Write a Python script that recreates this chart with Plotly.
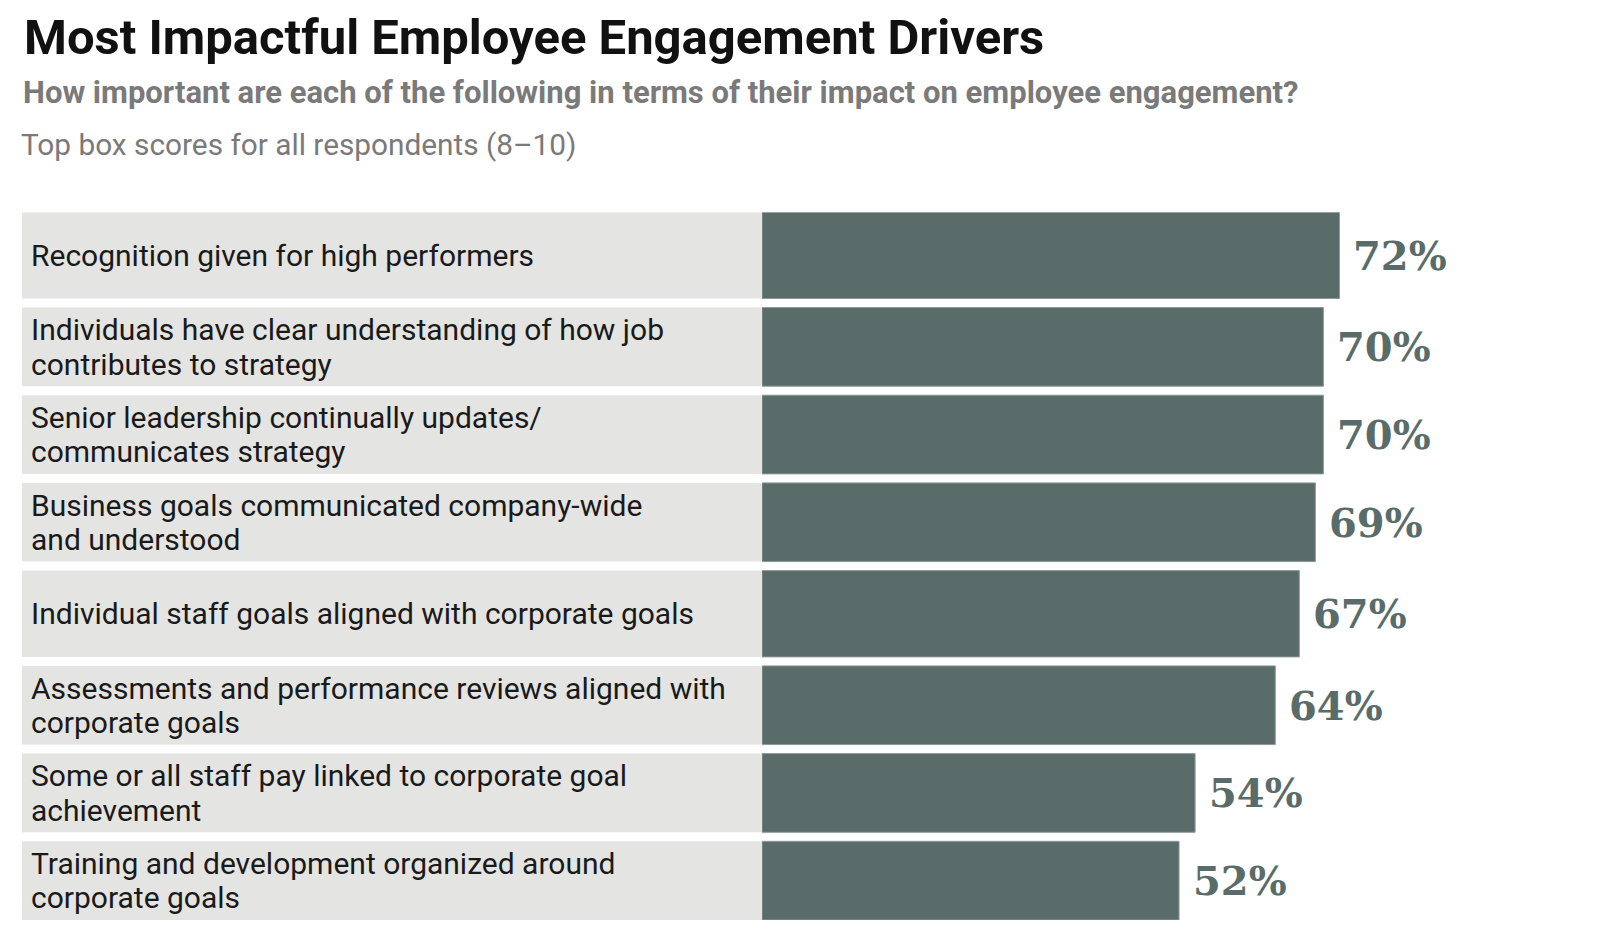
import plotly.graph_objects as go

categories = [
    "Recognition given for high performers",
    "Individuals have clear understanding of how job<br>contributes to strategy",
    "Senior leadership continually updates/<br>communicates strategy",
    "Business goals communicated company-wide<br>and understood",
    "Individual staff goals aligned with corporate goals",
    "Assessments and performance reviews aligned with<br>corporate goals",
    "Some or all staff pay linked to corporate goal<br>achievement",
    "Training and development organized around<br>corporate goals",
]
values = [72, 70, 70, 69, 67, 64, 54, 52]

title = "Most Impactful Employee Engagement Drivers"
subtitle = "How important are each of the following in terms of their impact on employee engagement?"
note = "Top box scores for all respondents (8–10)"

W, H = 1600, 950
OFF = 8  # page body margin
BAR = "#5a6c69"
GRAY = "#e4e4e3"
LINE = 34.5

# row layout: single-line rows are a little taller than two-line rows
ROW_H1, ROW_H2, GAP = 86.3, 78.7, 9.0
heights, centers = [], []
pos = 0.0
for c in categories:
    h = ROW_H1 if "<br>" not in c else ROW_H2
    heights.append(h)
    centers.append(pos + h / 2)
    pos += h + GAP
total = pos - GAP

fig = go.Figure()
# label column background
fig.add_trace(go.Bar(
    x=[1] * len(categories), y=centers, width=heights, orientation="h", xaxis="x2", yaxis="y",
    marker=dict(color=GRAY, line=dict(width=0)), hoverinfo="skip", showlegend=False,
))
# value bars
fig.add_trace(go.Bar(
    x=values, y=centers, width=heights, orientation="h", xaxis="x", yaxis="y",
    marker=dict(color=BAR, line=dict(color="#8c9a98", width=1)),
    hovertext=[c.replace("<br>", " ") for c in categories], hoverinfo="text+x",
    showlegend=False,
))

ann = []
for yc, c, v in zip(centers, categories, values):
    lines = c.split("<br>")
    n = len(lines)
    for i, ln in enumerate(lines):
        ann.append(dict(x=21 / W, xref="paper", y=yc, yref="y", text=ln, showarrow=False,
                        xanchor="left", yanchor="middle", align="left",
                        yshift=((n - 1) / 2 - i) * LINE,
                        font=dict(family="Roboto", size=30, color="#1a1a1a")))
    ann.append(dict(x=v, xref="x", y=yc, yref="y", text=f"{v}%", showarrow=False,
                    xanchor="left", yanchor="middle", xshift=12,
                    font=dict(family="DejaVu Serif", size=40, color=BAR, weight="bold")))

ann.append(dict(x=14 / W, xref="paper", y=1 - (37.5 - OFF) / H, yref="paper", text=f"<b>{title}</b>",
                showarrow=False, xanchor="left", yanchor="middle",
                font=dict(family="Roboto", size=49, color="#111111")))
ann.append(dict(x=13 / W, xref="paper", y=1 - (92 - OFF) / H, yref="paper", text=f"<b>{subtitle}</b>",
                showarrow=False, xanchor="left", yanchor="middle",
                font=dict(family="Roboto", size=31, color="#7a7a7a")))
ann.append(dict(x=11 / W, xref="paper", y=1 - (144 - OFF) / H, yref="paper", text=note,
                showarrow=False, xanchor="left", yanchor="middle",
                font=dict(family="Roboto", size=29.8, color="#7a7a7a")))

x0 = 762 - OFF
top, bot = 212.2 - OFF, 212.2 - OFF + total
fig.update_layout(
    width=W, height=H,
    margin=dict(l=0, r=0, t=0, b=0),
    paper_bgcolor="white", plot_bgcolor="white",
    xaxis=dict(domain=[x0 / W, (x0 + 802) / W], range=[0, 100], visible=False, fixedrange=True),
    xaxis2=dict(domain=[(22 - OFF) / W, x0 / W], range=[0, 1], visible=False, fixedrange=True),
    yaxis=dict(domain=[1 - bot / H, 1 - top / H], range=[total, 0],
               visible=False, fixedrange=True),
    annotations=ann,
)

fig.write_html("out.html")
